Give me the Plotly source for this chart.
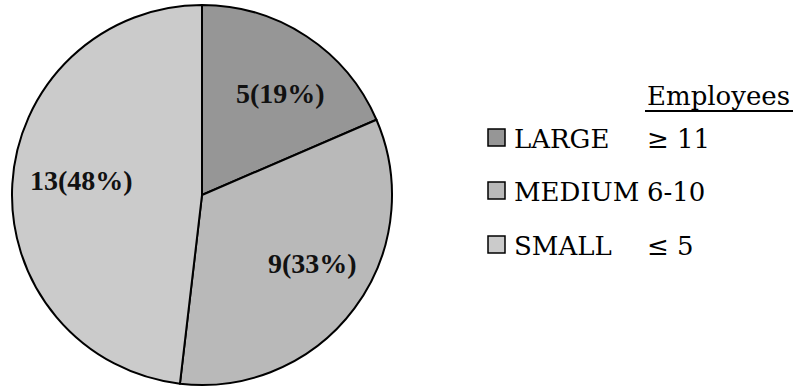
import math
import plotly.graph_objects as go

# Firm-size breakdown
categories = ["LARGE", "MEDIUM", "SMALL"]
ranges = ["\u2265 11", "6-10", "\u2264 5"]
counts = [5, 9, 13]
colors = ["#969696", "#b9b9b9", "#cbcbcb"]
legend_title = "Employees"

# small pixel nudges for the slice labels (dx, dy)
label_nudge = [(8, 6), (7, -9), (8, -7)]

W, H = 806, 388


def px(x):
    return x / W


def py(y):
    return 1 - y / H


# pie geometry in pixels
cx, cy, r = 202, 195, 190

total = sum(counts)

fig = go.Figure()
fig.add_trace(go.Pie(
    labels=categories,
    values=counts,
    sort=False,
    direction="clockwise",
    rotation=0,
    marker=dict(colors=colors, line=dict(color="black", width=2)),
    textinfo="none",
    hoverinfo="label+value+percent",
    showlegend=False,
    domain=dict(x=[px(cx - r), px(cx + r)], y=[py(cy + r), py(cy - r)]),
))

annotations = []
shapes = []

# slice labels placed along each slice's bisector
cum = 0
label_font = dict(family="Liberation Serif", size=28, color="#111111")
for n, (dx, dy) in zip(counts, label_nudge):
    mid = (cum + n / 2) / total * 2 * math.pi
    cum += n
    rr = 0.68 * r
    lx = cx + rr * math.sin(mid) + dx
    ly = cy - rr * math.cos(mid) + dy
    annotations.append(dict(
        x=px(lx), y=py(ly), xref="paper", yref="paper",
        text=f"<b>{n}({round(100 * n / total)}%)</b>",
        showarrow=False, font=label_font,
        xanchor="center", yanchor="middle",
    ))

# legend
leg_font = dict(family="DejaVu Serif", size=26, color="#000000")
annotations.append(dict(
    x=px(645), y=py(96), xref="paper", yref="paper", text=legend_title,
    showarrow=False, font=leg_font, xanchor="left", yanchor="middle",
))
shapes.append(dict(type="line", xref="paper", yref="paper",
                   x0=px(645), x1=px(793), y0=py(111), y1=py(111),
                   line=dict(color="black", width=2)))

row_y = [139, 192, 246]
for cat, rng, col, yy in zip(categories, ranges, colors, row_y):
    shapes.append(dict(type="rect", xref="paper", yref="paper",
                       x0=px(488), x1=px(505), y0=py(yy - 10), y1=py(yy + 7),
                       fillcolor=col, line=dict(color="black", width=1.5)))
    annotations.append(dict(
        x=px(512), y=py(yy), xref="paper", yref="paper", text=cat,
        showarrow=False, font=leg_font, xanchor="left", yanchor="middle",
    ))
    annotations.append(dict(
        x=px(645), y=py(yy), xref="paper", yref="paper", text=rng,
        showarrow=False, font=leg_font, xanchor="left", yanchor="middle",
    ))

fig.update_layout(
    width=W, height=H,
    margin=dict(l=0, r=0, t=0, b=0),
    paper_bgcolor="white", plot_bgcolor="white",
    annotations=annotations, shapes=shapes,
)

fig.write_html("out.html")
